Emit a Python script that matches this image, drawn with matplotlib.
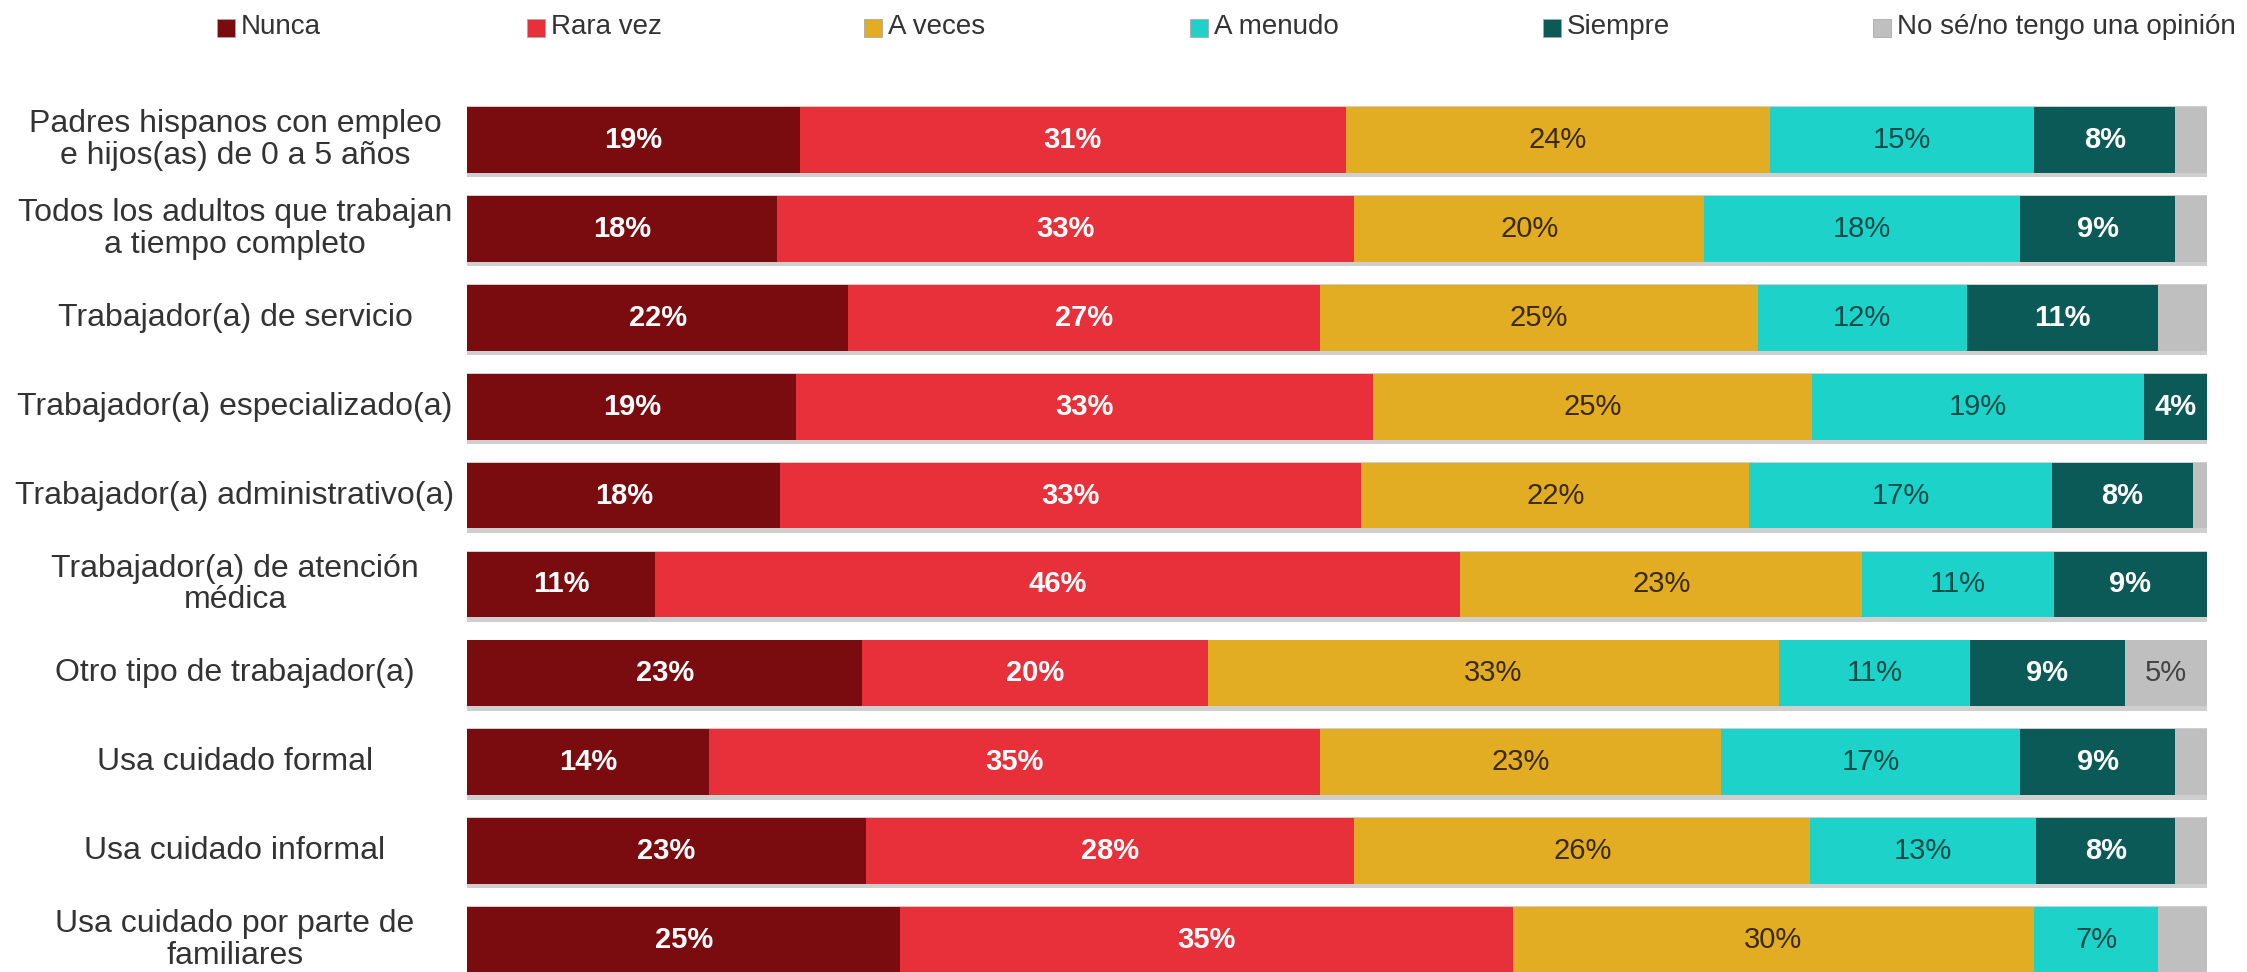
import matplotlib.pyplot as plt
from matplotlib.patches import Rectangle
from matplotlib.transforms import blended_transform_factory
import numpy as np

plt.rcParams['font.family'] = ['Liberation Sans', 'DejaVu Sans']

# Data
groups = [
    "Padres hispanos con empleo\ne hijos(as) de 0 a 5 años",
    "Todos los adultos que trabajan\na tiempo completo",
    "Trabajador(a) de servicio",
    "Trabajador(a) especializado(a)",
    "Trabajador(a) administrativo(a)",
    "Trabajador(a) de atención\nmédica",
    "Otro tipo de trabajador(a)",
    "Usa cuidado formal",
    "Usa cuidado informal",
    "Usa cuidado por parte de\nfamiliares",
]
answers = ["Nunca", "Rara vez", "A veces", "A menudo", "Siempre", "No sé/no tengo una opinión"]

nunca    = [19.1, 17.8, 21.9, 18.9, 18.0, 10.8, 22.7, 13.9, 22.9, 24.9]
rara_vez = [31.4, 33.2, 27.1, 33.2, 33.4, 46.3, 19.9, 35.1, 28.1, 35.2]
a_veces  = [24.4, 20.1, 25.2, 25.2, 22.3, 23.1, 32.8, 23.1, 26.2, 30.0]
a_menudo = [15.2, 18.2, 12.0, 19.1, 17.4, 11.0, 11.0, 17.2, 13.0, 7.1]
siempre  = [8.1, 8.9, 11.0, 3.6, 8.1, 8.8, 8.9, 8.9, 8.0, 0.0]
no_se    = [1.8, 1.8, 2.8, 0.0, 0.8, 0.0, 4.7, 1.8, 1.8, 2.8]

colors = ["#7a0c10", "#e8303a", "#e2ad22", "#1dd3c9", "#0b5a57", "#bfbfbf"]
text_colors = ["white", "white", "#3a2a05", "#0d4b48", "white", "#444444"]
text_weights = ["bold", "bold", "normal", "normal", "bold", "normal"]

series = [nunca, rara_vez, a_veces, a_menudo, siempre, no_se]

fig = plt.figure(figsize=(22.47, 9.72), dpi=100)
ax = fig.add_axes([0.208, 0.0, 0.774, 1.0])

y = np.arange(len(groups))
totals = np.sum(series, axis=0)

# soft gray shadow behind each bar
ax.barh(y + 0.02, totals + 0.25, left=-0.1, height=0.8, color="#cfcfcf", zorder=1)

left = np.zeros(len(groups))
for vals, col, tc, tw in zip(series, colors, text_colors, text_weights):
    vals = np.array(vals)
    ax.barh(y, vals, left=left, height=0.74, color=col, zorder=2)
    for i, v in enumerate(vals):
        if v >= 3.5:
            ax.text(left[i] + v / 2, y[i], f"{round(v)}%", ha="center", va="center",
                    color=tc, fontsize=21, fontweight=tw, zorder=3)
    left += vals

ax.set_xlim(0, 100)
ax.set_ylim(9.36, -1.575)
ax.axis("off")

# category labels
trans = blended_transform_factory(fig.transFigure, ax.transData)
for i, g in enumerate(groups):
    ax.text(0.1046, y[i], g, transform=trans, ha="center", va="center",
            multialignment="center", fontsize=23, color="#333333", linespacing=1.08)

# legend
legend_x = [217, 527, 864, 1190, 1543, 1873]
for lx, lab, col in zip(legend_x, answers, colors):
    fig.add_artist(Rectangle((lx / 2247, 1 - 37 / 972), 18 / 2247, 18 / 972,
                             transform=fig.transFigure, facecolor=col,
                             edgecolor="#aaaaaa", linewidth=0.6))
    fig.text((lx + 24) / 2247, 1 - 27 / 972, lab, ha="left", va="center",
             fontsize=20, color="#333333")

plt.savefig("out.png", dpi=100)
